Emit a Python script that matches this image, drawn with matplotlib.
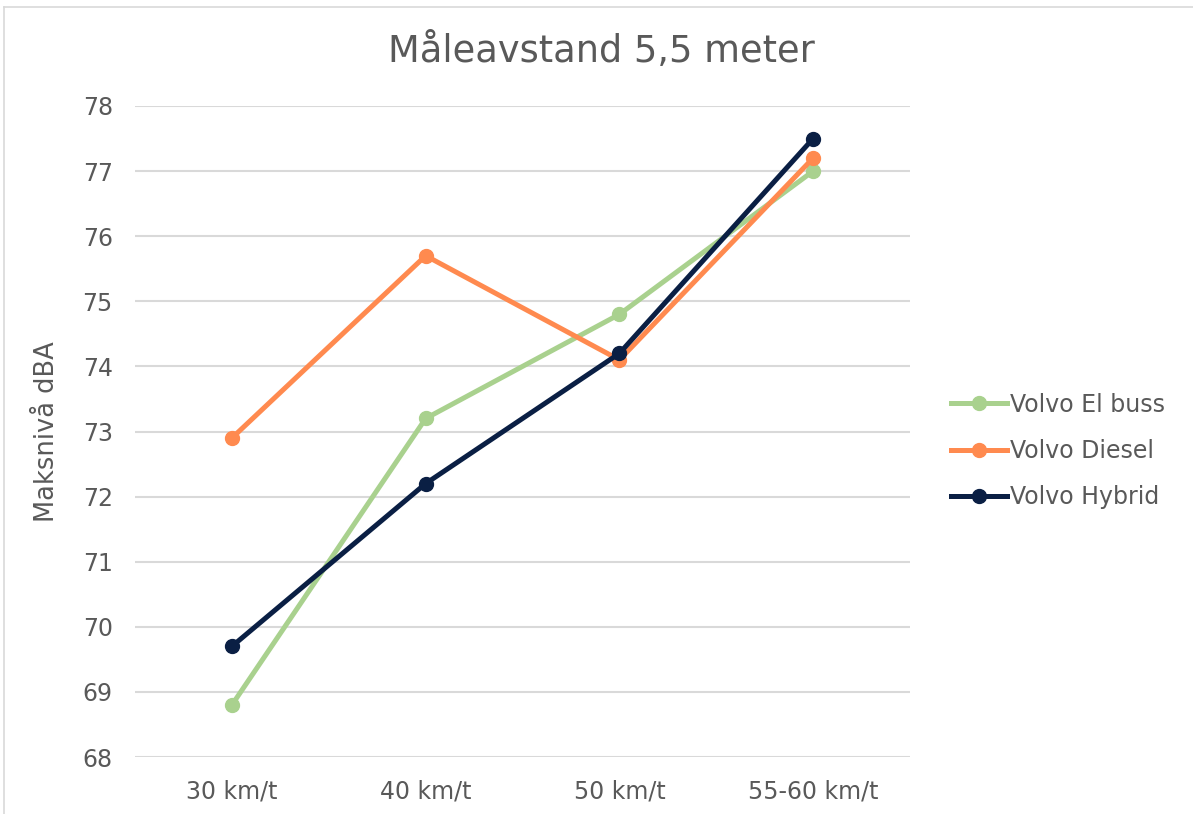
import numpy as np
import matplotlib.pyplot as plt
from matplotlib.lines import Line2D

categories = ["30 km/t", "40 km/t", "50 km/t", "55-60 km/t"]
el_buss = [68.8, 73.2, 74.8, 77.0]
diesel = [72.9, 75.7, 74.1, 77.2]
hybrid = [69.7, 72.2, 74.2, 77.5]

text_color = "#595959"
grid_color = "#D9D9D9"

fig = plt.figure(figsize=(11.93, 8.14), dpi=100)
ax = fig.add_axes([0.1132, 0.07, 0.6496, 0.7998])

x = np.arange(len(categories))
ax.plot(x, el_buss, color="#A9D18E", lw=3.6, marker="o", ms=10, label="Volvo El buss")
ax.plot(x, diesel, color="#FF8A4F", lw=3.6, marker="o", ms=10, label="Volvo Diesel")
ax.plot(x, hybrid, color="#0A1F44", lw=3.6, marker="o", ms=10, label="Volvo Hybrid")

ax.set_xlim(-0.5, len(categories) - 0.5)
ax.set_ylim(68, 78)
ax.set_yticks(range(68, 79))
ax.set_xticks(x)
ax.set_xticklabels(categories)
ax.grid(axis="y", color=grid_color, lw=1.5)
ax.set_axisbelow(True)
for s in ax.spines.values():
    s.set_visible(False)
ax.tick_params(length=0, colors=text_color, labelsize=17)
ax.tick_params(axis="y", pad=16)
ax.tick_params(axis="x", pad=16)
ax.set_ylabel("Maksnivå dBA", color=text_color, fontsize=18.5)
ax.yaxis.set_label_coords(-0.097, 0.5)
fig.text(601 / 1193, 1 - 52 / 814, "Måleavstand 5,5 meter", color=text_color,
         fontsize=26.5, ha="center", va="center")

leg = ax.legend(loc="center left", bbox_to_anchor=(1.025, 0.47), frameon=False,
                fontsize=17, labelspacing=0.95, handlelength=2.4, handletextpad=0.1)
for t in leg.get_texts():
    t.set_color(text_color)

fig.add_artist(Line2D([4 / 1193, 4 / 1193], [0, 1 - 7 / 814], color=grid_color, lw=1.2))
fig.add_artist(Line2D([4 / 1193, 1], [1 - 7 / 814, 1 - 7 / 814], color=grid_color, lw=1.2))

fig.savefig("out.png", dpi=100)
